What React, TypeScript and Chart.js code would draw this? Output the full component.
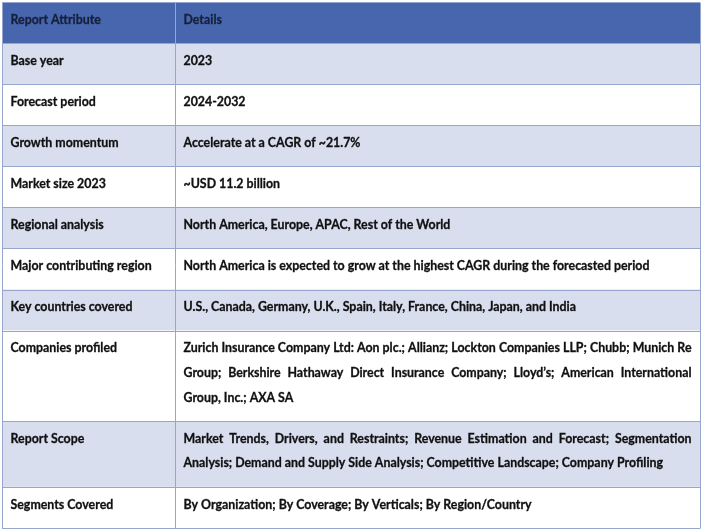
import React, { useEffect, useRef } from "react";
import { Chart, registerables } from "chart.js";

Chart.register(...registerables);

const headerLabels: string[] = ["Report Attribute", "Details"];

const attributes: string[] = [
  "Base year",
  "Forecast period",
  "Growth momentum",
  "Market size 2023",
  "Regional analysis",
  "Major contributing region",
  "Key countries covered",
  "Companies profiled",
  "Report Scope",
  "Segments Covered",
];

const details: string[][] = [
  ["2023"],
  ["2024-2032"],
  ["Accelerate at a CAGR of ~21.7%"],
  ["~USD 11.2 billion"],
  ["North America, Europe, APAC, Rest of the World"],
  ["North America is expected to grow at the highest CAGR during the forecasted period"],
  ["U.S., Canada, Germany, U.K., Spain, Italy, France, China, Japan, and India"],
  [
    "Zurich Insurance Company Ltd: Aon plc.; Allianz; Lockton Companies LLP; Chubb; Munich Re",
    "Group; Berkshire Hathaway Direct Insurance Company; Lloyd\u2019s; American International",
    "Group, Inc.; AXA SA",
  ],
  [
    "Market Trends, Drivers, and Restraints; Revenue Estimation and Forecast; Segmentation",
    "Analysis; Demand and Supply Side Analysis; Competitive Landscape; Company Profiling",
  ],
  ["By Organization; By Coverage; By Verticals; By Region/Country"],
];

// style constants
const HEADER_BG = "#4766AE";
const ALT_BG = "#D9DEEF";
const WHITE_BG = "#FFFFFF";
const BORDER = "#97A6CC";
const TEXT = "#111111";
const HEADER_TEXT = "#16203A";
const FONT_FAMILY = "Lato, 'Noto Sans', sans-serif";
const FONT_SIZE = 13;
const FIT_SAMPLE = details[5][0];
const FIT_WIDTH = 466;

// geometry in table units (y units ~ px)
const ROW_BASE = 41.2;
const LINE_STEP = 24.8;
const TEXT_OFFSET = 17;
const COL_SPLIT = 173;
const TABLE_W = 698;
const PAD_X = 8.5;

const rowHeights = [ROW_BASE, ...details.map((d) => ROW_BASE + (d.length - 1) * LINE_STEP)];
const totalH = rowHeights.reduce((a, b) => a + b, 0);

const tablePlugin = {
  id: "tablePlugin",
  afterDraw(chart: any) {
    const ctx: CanvasRenderingContext2D = chart.ctx;
    const xs = chart.scales.x;
    const ys = chart.scales.y;
    const X = (v: number) => xs.getPixelForValue(v);
    const Y = (v: number) => ys.getPixelForValue(v);
    ctx.save();
    ctx.font = `bold ${FONT_SIZE}px ${FONT_FAMILY}`;
    const sx = FIT_WIDTH / ctx.measureText(FIT_SAMPLE).width;
    ctx.lineWidth = 0.3;
    ctx.lineJoin = "round";

    const put = (s: string, x: number) => {
      ctx.fillText(s, x, 0);
      ctx.strokeText(s, x, 0);
    };

    const drawText = (s: string, x: number, y: number, justifyTo?: number) => {
      ctx.save();
      ctx.translate(x, y);
      ctx.scale(sx, 1);
      if (justifyTo !== undefined) {
        const words = s.split(" ");
        const widths = words.map((w) => ctx.measureText(w).width);
        const sum = widths.reduce((a, b) => a + b, 0);
        const avail = (justifyTo - x) / sx;
        const gap = (avail - sum) / (words.length - 1);
        let cx = 0;
        words.forEach((w, i) => {
          put(w, cx);
          cx += widths[i] + gap;
        });
      } else {
        put(s, 0);
      }
      ctx.restore();
    };

    let acc = 0;
    const x0 = X(0), x1 = X(COL_SPLIT), x2 = X(TABLE_W);
    for (let r = 0; r < rowHeights.length; r++) {
      const top = Y(acc);
      const bot = Y(acc + rowHeights[r]);
      ctx.fillStyle = r === 0 ? HEADER_BG : r % 2 === 1 ? ALT_BG : WHITE_BG;
      ctx.fillRect(x0, top, x2 - x0, bot - top);
      const col = r === 0 ? HEADER_TEXT : TEXT;
      ctx.fillStyle = col;
      ctx.strokeStyle = col;
      ctx.textBaseline = "middle";
      ctx.textAlign = "left";
      const ty = (i: number) => Y(acc + TEXT_OFFSET + i * LINE_STEP) + 0.5;
      if (r === 0) {
        drawText(headerLabels[0], x0 + PAD_X, ty(0));
        drawText(headerLabels[1], x1 + PAD_X, ty(0));
      } else {
        drawText(attributes[r - 1], x0 + PAD_X, ty(0));
        const lines = details[r - 1];
        lines.forEach((ln, i) => {
          const justify = lines.length > 1 && i < lines.length - 1;
          drawText(ln, x1 + PAD_X, ty(i), justify ? x2 - PAD_X : undefined);
        });
      }
      acc += rowHeights[r];
    }
    // grid lines
    ctx.strokeStyle = BORDER;
    ctx.lineWidth = 1;
    acc = 0;
    ctx.beginPath();
    for (let r = 0; r <= rowHeights.length; r++) {
      const y = Math.round(Y(acc)) + 0.5;
      ctx.moveTo(x0, y);
      ctx.lineTo(x2, y);
      if (r < rowHeights.length) acc += rowHeights[r];
    }
    const topY = Math.round(Y(0)) + 0.5;
    const botY = Math.round(Y(totalH)) + 0.5;
    [x0, x1, x2].forEach((x) => {
      const px = Math.round(x) + 0.5;
      ctx.moveTo(px, topY);
      ctx.lineTo(px, botY);
    });
    ctx.stroke();
    ctx.restore();
  },
};

export default function App() {
  const ref = useRef<HTMLCanvasElement | null>(null);
  useEffect(() => {
    document.body.style.margin = "0";
    if (!ref.current) return;
    const chart = new Chart(ref.current, {
      type: "scatter",
      data: { datasets: [{ data: [], pointRadius: 0 }] },
      options: {
        responsive: false,
        animation: false,
        events: [],
        layout: { padding: { left: 2, right: 2, top: 2, bottom: 3 } },
        plugins: { legend: { display: false }, tooltip: { enabled: false } },
        scales: {
          x: { type: "linear", min: 0, max: TABLE_W, display: false },
          y: { type: "linear", min: 0, max: totalH, reverse: true, display: false },
        },
      },
      plugins: [tablePlugin],
    });
    return () => chart.destroy();
  }, []);
  return <canvas ref={ref} width={702} height={531} style={{ display: "block" }} />;
}
